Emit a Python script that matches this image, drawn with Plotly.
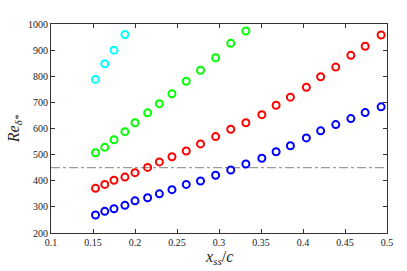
import plotly.graph_objects as go

x_all = [0.153, 0.164, 0.175, 0.188, 0.200, 0.215, 0.229, 0.244, 0.261, 0.278, 0.296,
         0.314, 0.332, 0.351, 0.368, 0.385, 0.404, 0.421, 0.439, 0.457, 0.474, 0.493]
re_blue = [269, 283, 293, 306, 323, 335, 350, 366, 386, 399, 421,
           441, 464, 486, 511, 534, 564, 591, 615, 638, 661, 683]
re_red = [371, 386, 402, 414, 431, 451, 472, 492, 514, 541, 569,
          597, 622, 653, 689, 720, 758, 798, 835, 880, 915, 958]
re_green = [507, 528, 557, 588, 622, 660, 695, 733, 781, 823, 871, 926, 973]
re_cyan = [788, 848, 900, 960]
re_threshold = 450

x_ticks = [0.1, 0.15, 0.2, 0.25, 0.3, 0.35, 0.4, 0.45, 0.5]
x_tick_labels = ["0.1", "0.15", "0.2", "0.25", "0.3", "0.35", "0.4", "0.45", "0.5"]
y_ticks = [200, 300, 400, 500, 600, 700, 800, 900, 1000]

fig = go.Figure()
fig.add_trace(go.Scatter(x=[0.1, 0.5], y=[re_threshold, re_threshold], mode="lines",
                         line=dict(color="#9a9a9a", width=1.3, dash="dashdot"),
                         showlegend=False, hoverinfo="skip"))
for vals, col in [(re_blue, "#0000ff"), (re_red, "#ff0000"),
                  (re_green, "#00ff00"), (re_cyan, "#00ffff")]:
    fig.add_trace(go.Scatter(x=x_all[:len(vals)], y=vals, mode="markers",
                             marker=dict(symbol="circle-open", size=7, color=col,
                                         line=dict(width=2, color=col)),
                             showlegend=False))

axis_common = dict(showgrid=False, zeroline=False, showline=True, linecolor="#333333",
                   linewidth=1, mirror="ticks", ticks="inside", ticklen=4,
                   tickcolor="#333333", tickfont=dict(family="Liberation Serif", size=10, color="#222222"))
fig.update_xaxes(range=[0.1, 0.5], tickvals=x_ticks, ticktext=x_tick_labels, **axis_common)
fig.update_yaxes(range=[200, 1000], tickvals=y_ticks,
                 title=dict(text="<i>Re<sub>δ*</sub></i>",
                            font=dict(family="Liberation Serif", size=16, color="#222222"),
                            standoff=4),
                 **axis_common)
fig.add_annotation(text="<i>x<sub>ss</sub></i>/<i>c</i>", xref="paper", yref="paper",
                   x=0.5, y=-0.115, xanchor="center", yanchor="middle", showarrow=False,
                   font=dict(family="Liberation Serif", size=16, color="#222222"))
fig.update_layout(width=407, height=271, margin=dict(l=51, r=20, t=24, b=38),
                  plot_bgcolor="white", paper_bgcolor="white")
fig.write_html("out.html", config={"displayModeBar": False},
               post_script="document.body.style.margin='0';document.body.style.overflow='hidden';")
